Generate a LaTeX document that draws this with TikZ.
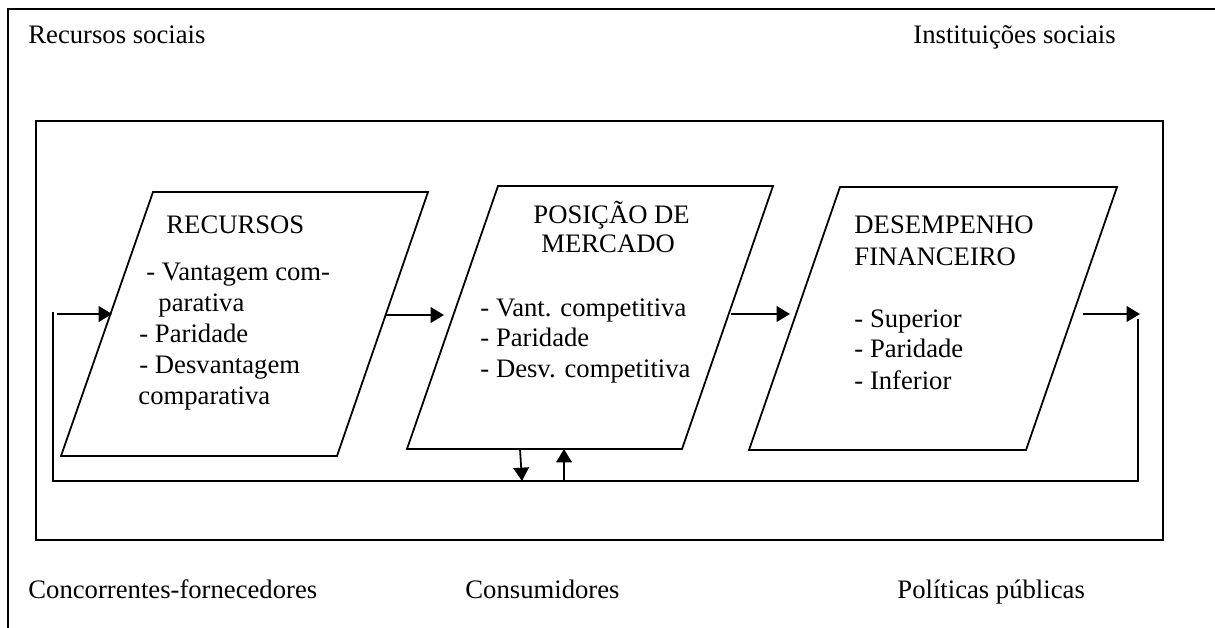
\documentclass[tikz,border=0pt]{standalone}
\usepackage{fontspec}
\setmainfont{Liberation Serif}
\usetikzlibrary{arrows.meta}
\begin{document}
\begin{tikzpicture}[x=0.45pt,y=-0.45pt,
  line/.style={line width=0.8pt, line join=miter},
  arr/.style={line, -{Triangle[length=6pt,width=7pt]}},
  txt/.style={anchor=base west, inner sep=0pt, font=\fontsize{12}{14}\selectfont}]
\useasboundingbox (0,0) rectangle (1215,628);
\clip (0,0) rectangle (1215,628);

% frames
\draw[line] (1230,9) -- (8,9) -- (8,640);
\draw[line] (36,121) rectangle (1163,540);

% parallelogram corners
\coordinate (p1a) at (153,192); \coordinate (p1b) at (428,192);
\coordinate (p1c) at (337,456); \coordinate (p1d) at (61,456);
\coordinate (p2a) at (498,186); \coordinate (p2b) at (773,186);
\coordinate (p2c) at (682,449); \coordinate (p2d) at (407,449);
\coordinate (p3a) at (840,187); \coordinate (p3b) at (1117,187);
\coordinate (p3c) at (1026,450); \coordinate (p3d) at (749,450);
\draw[line] (p1a) -- (p1b) -- (p1c) -- (p1d) -- cycle;
\draw[line] (p2a) -- (p2b) -- (p2c) -- (p2d) -- cycle;
\draw[line] (p3a) -- (p3b) -- (p3c) -- (p3d) -- cycle;

% connector points
\coordinate (inS) at (57,314);   \coordinate (inE) at (112,314);
\coordinate (a1S) at (386,315);  \coordinate (a1E) at (444,315);
\coordinate (a2S) at (731,314);  \coordinate (a2E) at (790,314);
\coordinate (outS) at (1083,314); \coordinate (outE) at (1140,314);
\coordinate (loopA) at (1138,319); \coordinate (loopB) at (1138,481);
\coordinate (loopC) at (53,481);   \coordinate (loopD) at (53,312);
\coordinate (dnS) at (520,449); \coordinate (dnE) at (522,481);
\coordinate (upS) at (564,481); \coordinate (upE) at (564,449);

\draw[arr] (inS) -- (inE);
\draw[arr] (a1S) -- (a1E);
\draw[arr] (a2S) -- (a2E);
\draw[arr] (outS) -- (outE);
\draw[line] (loopA) -- (loopB) -- (loopC) -- (loopD);
\draw[arr] (dnS) -- (dnE);
\draw[arr] (upS) -- (upE);

% environment labels
\node[txt] (rs) at (28,44) {Recursos sociais};
\node[txt] (is) at (913,44) {Instituições sociais};
\node[txt] (cf) at (28,598) {Concorrentes-fornecedores};
\node[txt] (cs) at (465,598) {Consumidores};
\node[txt] (pp) at (897,598) {Políticas públicas};

% resources
\node[txt] (r0) at (166,234) {RECURSOS};
\node[txt] (r1) at (146,280) {- Vantagem com-};
\node[txt] (r2) at (158,311) {parativa};
\node[txt] (r3) at (139,342) {- Paridade};
\node[txt] (r4) at (139,373) {- Desvantagem};
\node[txt] (r5) at (138,404) {comparativa};

% market position
\node[txt] (m0) at (533,223) {POSIÇÃO DE};
\node[txt] (m1) at (541,253) {MERCADO};
\node[txt] (m2) at (480,316) {- Vant. competitiva};
\node[txt] (m3) at (480,346) {- Paridade};
\node[txt] (m4) at (480,377) {- Desv. competitiva};

% financial performance
\node[txt] (f0) at (854,234) {DESEMPENHO};
\node[txt] (f1) at (854,265) {FINANCEIRO};
\node[txt] (f2) at (854,327) {- Superior};
\node[txt] (f3) at (854,357) {- Paridade};
\node[txt] (f4) at (854,389) {- Inferior};
\end{tikzpicture}
\end{document}
